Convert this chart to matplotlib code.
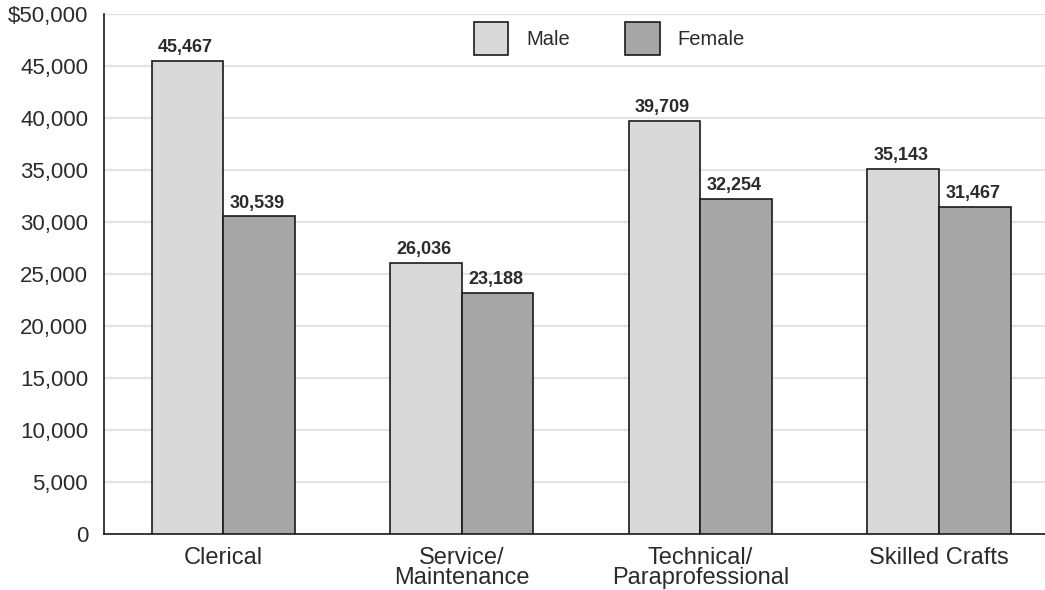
import matplotlib
matplotlib.use("Agg")
import matplotlib.pyplot as plt
from matplotlib import font_manager
import numpy as np

categories = ["Clerical", "Service/\nMaintenance", "Technical/\nParaprofessional", "Skilled Crafts"]
male = [45467, 26036, 39709, 35143]
female = [30539, 23188, 32254, 31467]
yticks = [0, 5000, 10000, 15000, 20000, 25000, 30000, 35000, 40000, 45000, 50000]
ytick_labels = ["0", "5,000", "10,000", "15,000", "20,000", "25,000", "30,000",
                "35,000", "40,000", "45,000", "$50,000"]

names = {f.name for f in font_manager.fontManager.ttflist}
narrow = "Liberation Sans Narrow" if "Liberation Sans Narrow" in names else "Liberation Sans"
base = "Liberation Sans"

text_col = "#2b2b2b"
male_col = "#d9d9d9"
female_col = "#a6a6a6"
edge_col = "#1a1a1a"

fig = plt.figure(figsize=(10.45, 5.9), dpi=100)
ax = fig.add_axes([104 / 1045, 56 / 590, 941 / 1045, 520 / 590])

x = np.arange(len(categories))
w = 0.3
bm = ax.bar(x - w / 2, male, w, color=male_col, edgecolor=edge_col, linewidth=1.2,
            label="Male", zorder=3)
bf = ax.bar(x + w / 2, female, w, color=female_col, edgecolor=edge_col, linewidth=1.2,
            label="Female", zorder=3)

label_size = 15 if narrow != base else 13
for bars, vals in ((bm, male), (bf, female)):
    for b, v in zip(bars, vals):
        ax.annotate(f"{v:,}", (b.get_x() + b.get_width() / 2, v),
                    xytext=(-1.5, 3.5), textcoords="offset points",
                    ha="center", va="bottom", fontsize=label_size, fontweight="bold",
                    family=narrow, color=text_col)

ax.set_xlim(-0.5, 3.444)
ax.set_ylim(0, 50000)
ax.set_yticks(yticks)
ax.set_yticklabels(ytick_labels, family=base, fontsize=16, color=text_col)
ax.set_xticks(x)
ax.set_xticklabels(categories, family=base, fontsize=17, color=text_col,
                   linespacing=0.92)
ax.tick_params(axis="both", length=0)
ax.tick_params(axis="y", pad=11.5)
ax.tick_params(axis="x", pad=9)

ax.grid(axis="y", color="#e3e3e3", linewidth=1.6, zorder=0)
ax.set_axisbelow(True)
for s in ("top", "right"):
    ax.spines[s].set_visible(False)
ax.spines["left"].set_color(edge_col)
ax.spines["bottom"].set_color(edge_col)
ax.spines["left"].set_linewidth(1.2)
ax.spines["bottom"].set_linewidth(1.2)

leg = ax.legend(loc="upper center", bbox_to_anchor=((609.5 - 104) / 941, 1.0),
                ncol=2, frameon=False, prop={"family": base, "size": 14.5},
                handlelength=1.7, handleheight=2.15, handletextpad=0.9,
                columnspacing=2.75, borderaxespad=0.0)
for t in leg.get_texts():
    t.set_color(text_col)
for p in leg.get_patches():
    p.set_edgecolor(edge_col)
    p.set_linewidth(1.2)

fig.savefig("out.png", dpi=100)
